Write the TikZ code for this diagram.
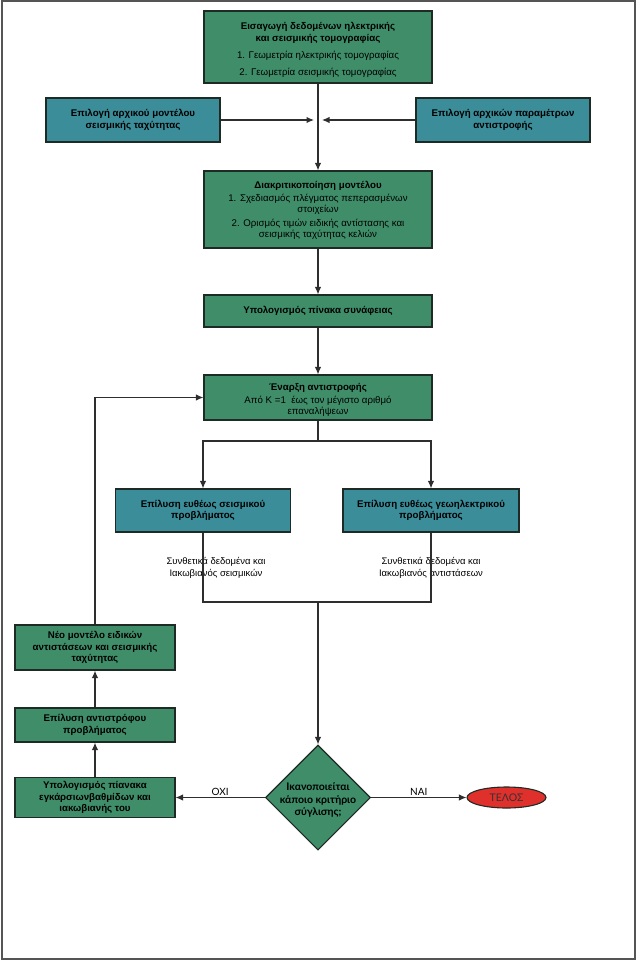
\documentclass[tikz,border=0pt]{standalone}
\usepackage{fontspec}
\setmainfont{Liberation Sans}
\newfontfamily\gillfont{Lato}
\usetikzlibrary{shapes.geometric,arrows.meta}
\definecolor{boxgreen}{HTML}{3F8E69}
\definecolor{boxteal}{HTML}{3A8D99}
\definecolor{endred}{HTML}{E0302C}
\definecolor{edgecol}{HTML}{1E2A24}
\definecolor{framecol}{HTML}{555555}
\definecolor{linecol}{HTML}{2E2E2E}
\begin{document}
\begin{tikzpicture}[x=1pt,y=-1pt,
  gbox/.style={draw=edgecol,line width=1.1pt,fill=boxgreen,align=center,inner sep=0pt,
    font=\fontsize{9.7}{11.6}\selectfont},
  tbox/.style={gbox,fill=boxteal},
  conn/.style={draw=linecol,line width=1.2pt},
  arr/.style={conn,-{Latex[length=7.5pt,width=6.5pt]}},
  lbl/.style={font=\fontsize{9.5}{12}\selectfont,align=center,inner sep=0pt},
  glbl/.style={font=\gillfont\fontsize{10}{12}\selectfont,inner sep=0pt}]
\useasboundingbox (0,0) rectangle (636,960);
\draw[framecol,line width=2pt] (1.5,1.5) rectangle (634.5,958.5);

% main column
\node[gbox,minimum width=228pt,minimum height=72pt] (inp) at (318,47)
  {\rule{0pt}{13pt}\textbf{Εισαγωγή δεδομένων ηλεκτρικής}\\ \textbf{και σεισμικής τομογραφίας}\hspace*{12pt}\\[5.4pt]
   1. Γεωμετρία ηλεκτρικής τομογραφίας\\[5.1pt] 2. Γεωμετρία σεισμικής τομογραφίας};
\node[tbox,minimum width=174pt,minimum height=44pt] (lsel) at (133,120)
  {\textbf{Επιλογή αρχικού μοντέλου}\\ \textbf{σεισμικής ταχύτητας}};
\node[tbox,minimum width=174pt,minimum height=44pt] (rsel) at (503,120)
  {\textbf{Επιλογή αρχικών παραμέτρων}\\ \textbf{αντιστροφής}};
\node[gbox,minimum width=228pt,minimum height=77pt] (disc) at (318,209.5)
  {\rule{0pt}{9pt}\textbf{Διακριτικοποίηση μοντέλου}\\[1.5pt]
   1. Σχεδιασμός πλέγματος πεπερασμένων\\ στοιχείων\\[1.5pt]
   2. Ορισμός τιμών ειδικής αντίστασης και\\ σεισμικής ταχύτητας κελιών};
\node[gbox,minimum width=228pt,minimum height=32pt] (adj) at (318,311)
  {\textbf{Υπολογισμός πίνακα συνάφειας}};
\node[gbox,minimum width=228pt,minimum height=45pt] (start) at (318,397.5)
  {\rule{0pt}{12pt}\textbf{Έναρξη αντιστροφής}\\[1.5pt] Από Κ =1\ \ έως τον μέγιστο αριθμό\\ επαναλήψεων};
\node[tbox,minimum width=175pt,minimum height=43pt] (seis) at (203,510.5)
  {\textbf{Επίλυση ευθέως σεισμικού}\\ \textbf{προβλήματος}};
\node[tbox,minimum width=176pt,minimum height=43pt] (geo) at (431,510.5)
  {\textbf{Επίλυση ευθέως γεωηλεκτρικού}\\ \textbf{προβλήματος}};
\node[lbl] (sl) at (216,568) {Συνθετικά δεδομένα και\\ Ιακωβιανός σεισμικών};
\node[lbl] (gl) at (431,568) {Συνθετικά δεδομένα και\\ Ιακωβιανός αντιστάσεων};

\node[diamond,draw=edgecol,line width=1.1pt,fill=boxgreen,inner sep=0pt,
  minimum width=105pt,minimum height=105pt] (dia) at (318,797.5) {};
\node[align=center,inner sep=0pt,
  font=\gillfont\bfseries\fontsize{10.5}{12.8}\selectfont] (diatext) at (318,800)
  {Ικανοποιείται\\ κάποιο κριτήριο\\ σύγλισης;};
\node[ellipse,draw=edgecol,line width=1.1pt,fill=endred,inner sep=0pt,
  minimum width=79pt,minimum height=21pt,
  font=\gillfont\fontsize{10.5}{12}\selectfont,text=black!80] (end) at (506.5,797.5) {ΤΕΛΟΣ};

% left column
\node[gbox,minimum width=160pt,minimum height=45pt] (neo) at (95,647.5)
  {\textbf{Νέο μοντέλο ειδικών}\\ \textbf{αντιστάσεων και σεισμικής}\\ \textbf{ταχύτητας}};
\node[gbox,minimum width=160pt,minimum height=34pt] (inv) at (95,725)
  {\textbf{Επίλυση αντιστρόφου}\\ \textbf{προβλήματος}};
\node[gbox,minimum width=160pt,minimum height=40pt] (grad) at (95,797.5)
  {\textbf{Υπολογισμός πίανακα}\\ \textbf{εγκάρσιωνβαθμίδων και}\\ \textbf{ιακωβιανής του}};

% connectors
\coordinate (ml) at (314,120);
\coordinate (mr) at (322,120);
\draw[arr] (inp.south) -- (disc.north);
\draw[arr] (lsel.east) -- (ml);
\draw[arr] (rsel.west) -- (mr);
\draw[arr] (disc.south) -- (adj.north);
\draw[arr] (adj.south) -- (start.north);
\coordinate (sp) at (318,441);
\draw[conn] (start.south) -- (sp);
\draw[arr] (sp) -| (seis.north);
\draw[arr] (sp) -| (geo.north);
\coordinate (mg) at (318,602);
\draw[conn] (seis.south) |- (mg);
\draw[conn] (geo.south) |- (mg);
\draw[arr] (mg) -- (dia.north);
\draw[arr] (dia.west) -- (grad.east) node[glbl,midway,above=1.5pt] {ΟΧΙ};
\draw[arr] (dia.east) -- (end.west) node[glbl,midway,above=1.5pt] {ΝΑΙ};
\draw[arr] (grad.north) -- (inv.south);
\draw[arr] (inv.north) -- (neo.south);
\draw[arr] (neo.north) |- (start.west);
\end{tikzpicture}
\end{document}
